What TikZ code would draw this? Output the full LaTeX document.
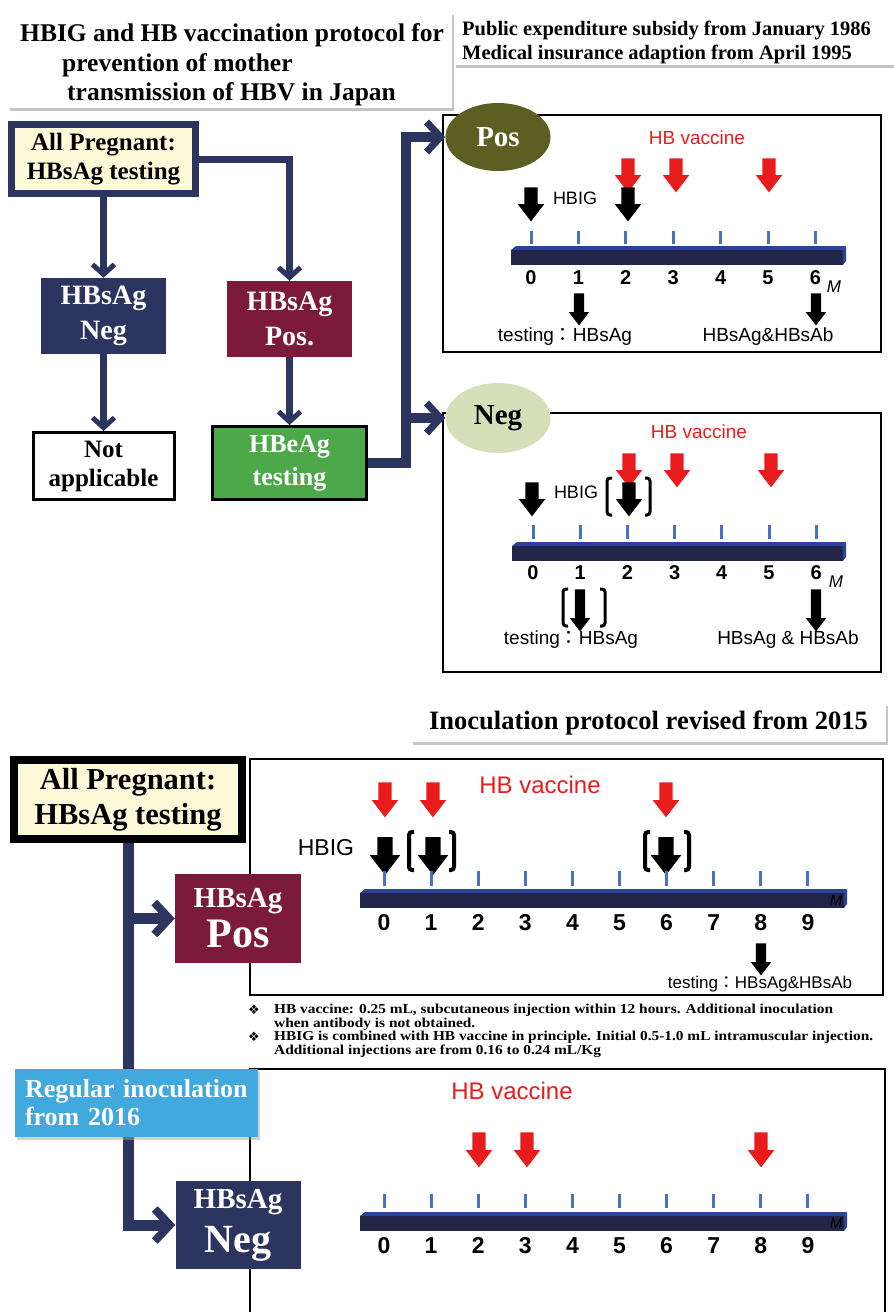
\documentclass[tikz,border=0pt]{standalone}
\usepackage{fontspec}
\setmainfont{Liberation Serif}
\newfontfamily\sansf{Liberation Sans}
\newfontfamily\symf{DejaVu Sans}
\newfontfamily\cjkf{Noto Sans CJK JP}
\newfontfamily\notef[FakeStretch=1.13]{Liberation Serif}
\usetikzlibrary{positioning,shapes.geometric,shapes.arrows,arrows.meta,shadows}

\definecolor{navy}{RGB}{43,53,96}
\definecolor{wine}{RGB}{123,26,58}
\definecolor{leaf}{RGB}{76,168,73}
\definecolor{moss}{RGB}{92,94,34}
\definecolor{sage}{RGB}{214,222,186}
\definecolor{sky}{RGB}{65,169,221}
\definecolor{cream}{RGB}{253,250,218}
\definecolor{vaxred}{RGB}{232,28,28}
\definecolor{tickblue}{RGB}{68,114,196}
\definecolor{bardark}{RGB}{34,37,72}
\definecolor{bartop}{RGB}{44,66,150}

% 3D month bar: left x, right x, top y
\newcommand{\timebar}[3]{%
  \fill[bartop] (#1,#3+4) -- (#1+5,#3) -- (#2,#3) -- (#2-3,#3+4) -- cycle;
  \fill[bardark] (#1,#3+4) rectangle (#2-3,#3+19);
  \fill[bartop] (#2-3,#3+4) -- (#2,#3) -- (#2,#3+15) -- (#2-3,#3+19) -- cycle;}

\begin{document}
\begin{tikzpicture}[x=1pt,y=-1pt,on grid,
    every node/.style={inner sep=0pt},
    hdr/.style={rectangle,fill=white,drop shadow={shadow xshift=2pt,shadow yshift=-3pt,fill=black!45}},
    testbox/.style={rectangle,align=center,font=\bfseries\fontsize{25}{29}\selectfont},
    resbox/.style={rectangle,align=center,text=white,font=\bfseries\fontsize{28}{35}\selectfont},
    flow/.style={draw=navy,line width=7pt,-{Straight Barb[length=10pt,width=22pt,line width=5pt]}},
    bigflow/.style={draw=navy,line width=10pt,-{Straight Barb[length=14pt,width=30pt,line width=7pt]}},
    panel/.style={draw,line width=1.5pt},
    vax/.style={single arrow,shape border rotate=270,fill=vaxred,inner sep=6.5pt,
      single arrow head extend=6.5pt,single arrow tip angle=75,minimum height=34pt},
    hbig/.style={vax,fill=black},
    probe/.style={single arrow,shape border rotate=270,fill=black,inner sep=5pt,
      single arrow head extend=5pt,single arrow tip angle=75,minimum height=32pt},
    brk/.style={line width=3pt,rounded corners=3pt},
    tickmark/.style={draw=tickblue,line width=3pt},
    num/.style={anchor=base,font=\sansf\bfseries\fontsize{20}{24}\selectfont},
    bignum/.style={anchor=base,font=\sansf\bfseries\fontsize{23}{26}\selectfont},
    mlabel/.style={font=\sansf\itshape\fontsize{17}{20}\selectfont},
    lbl/.style={font=\sansf\fontsize{19}{22}\selectfont},
    redlbl/.style={font=\sansf\fontsize{19}{22}\selectfont,text=vaxred},
    note/.style={anchor=west,align=left,font=\notef\bfseries\fontsize{13.6}{14}\selectfont}]

  \useasboundingbox (0,0) rectangle (894,1312);

  % headers
  \node[hdr,minimum width=444pt,minimum height=96pt] (title) at (230,60) {};
  \node[anchor=west,align=left,font=\bfseries\fontsize{25.5}{29.5}\selectfont] (titletxt) at (20,65)
    {HBIG and HB vaccination protocol for\\\hspace*{42pt}prevention of mother\\\hspace*{47pt}transmission of HBV in Japan};
  \node[hdr,minimum width=440pt,minimum height=54pt] (subsidy) at (674,38) {};
  \node[anchor=west,align=left,font=\bfseries\fontsize{20.5}{24}\selectfont] (subsidytxt) at (462,42)
    {Public expenditure subsidy from January 1986\\Medical insurance adaption from April 1995};

  % old protocol flow
  \node[testbox,draw=navy,line width=7pt,fill=cream,minimum width=184pt,minimum height=69pt] (preg1) at (103.5,159) {All Pregnant:\\HBsAg testing};
  \node[resbox,fill=navy,minimum width=125pt,minimum height=76pt] (neg1) [below=157pt of preg1] {HBsAg\\Neg};
  \node[resbox,fill=wine,minimum width=125pt,minimum height=76pt] (pos1) [below right=160pt and 186pt of preg1] {HBsAg\\Pos.};
  \node[testbox,draw,line width=3pt,fill=white,minimum width=141pt,minimum height=67pt] (na1) [below=150pt of neg1] {Not\\applicable};
  \node[testbox,draw,line width=3pt,fill=leaf,text=white,minimum width=154pt,minimum height=73pt,
    font=\bfseries\fontsize{26}{33}\selectfont] (eag) [below=144pt of pos1] {HBeAg\\testing};
  \draw[flow] (preg1.south) -- (neg1.north);
  \draw[flow] (preg1.east) -| (pos1.north);
  \draw[flow] (neg1.south) -- (na1.north);
  \draw[flow] (pos1.south) -- (eag.north);

  % Pos panel
  \draw[panel] (443,115) rectangle (881,352);
  \node[ellipse,fill=moss,minimum width=105pt,minimum height=68pt,text=white,
    font=\bfseries\fontsize{29}{32}\selectfont] (posell) at (498,137) {Pos};
  \node[redlbl] (pvac) at (697,138) {HB vaccine};
  \node[vax] (pv1) at (628,171) {};
  \node[vax] (pv2) at (676,171) {};
  \node[vax] (pv3) at (769,171) {};
  \node[hbig] (ph1) at (531,200) {};
  \node[hbig] (ph2) at (628,200) {};
  \node[font=\sansf\fontsize{18}{20}\selectfont] (phbig) at (575,198) {HBIG};
  \foreach \i in {0,...,6} {
    \draw[tickmark] (531+47.4*\i,231) -- ++(0,13);
    \node[num] (pn\i) at (531+47.4*\i,284) {\i};
  }
  \timebar{511}{846}{246}
  \node[mlabel] (pm) at (834,287) {M};
  \node[probe] (pt1) at (579,306) {};
  \node[probe] (pt2) at (816,306) {};
  \node[lbl] (ptest) at (565,337) {testing{\cjkf ：}HBsAg};
  \node[lbl] (pab) at (768,337) {HBsAg\&HBsAb};

  % Neg panel
  \draw[panel] (443,413) rectangle (881,672);
  \node[ellipse,fill=sage,minimum width=105pt,minimum height=70pt,
    font=\bfseries\fontsize{29}{32}\selectfont] (negell) at (498,418) {Neg};
  \node[redlbl] (nvac) at (699,432) {HB vaccine};
  \node[vax] (nv1) at (629,466) {};
  \node[vax] (nv2) at (677,466) {};
  \node[vax] (nv3) at (771,466) {};
  \node[hbig] (nh1) at (532,495) {};
  \node[hbig] (nh2) at (629,495) {};
  \draw[brk] (612,478) -- (607,478) -- (607,515) -- (612,515);
  \draw[brk] (645,478) -- (650,478) -- (650,515) -- (645,515);
  \node[font=\sansf\fontsize{18}{20}\selectfont] (nhbig) at (576,492) {HBIG};
  \foreach \i in {0,...,6} {
    \draw[tickmark] (533+47.2*\i,525) -- ++(0,14);
    \node[num] (nn\i) at (533+47.2*\i,579) {\i};
  }
  \timebar{512}{846}{542}
  \node[mlabel] (nm) at (836,582) {M};
  \node[probe,minimum height=42pt] (nt1) at (580,607) {};
  \node[probe,minimum height=42pt] (nt2) at (816,607) {};
  \draw[brk] (568,589) -- (563,589) -- (563,626) -- (568,626);
  \draw[brk] (600,589) -- (605,589) -- (605,626) -- (600,626);
  \node[lbl] (ntest) at (571,640) {testing{\cjkf ：}HBsAg};
  \node[lbl] (nab) at (788,640) {HBsAg \& HBsAb};

  % HBeAg result to both panels
  \draw[bigflow] (eag.east) -- ++(38,0) coordinate (fork) |- (posell.west);
  \draw[bigflow] (fork) |- (negell.west);

  % revised protocol
  \node[hdr,minimum width=475pt,minimum height=39pt,font=\bfseries\fontsize{26.5}{28}\selectfont] (inoc) at (648.5,722.5) {Inoculation protocol revised from 2015};
  \draw[panel] (250,759) rectangle (883,995);
  \draw[panel] (250,1312) -- (250,1069) -- (885,1069) -- (885,1312);
  \node[testbox,draw=black,line width=8pt,fill=cream,minimum width=228pt,minimum height=79pt,
    font=\bfseries\fontsize{30.5}{35}\selectfont] (preg2) at (128,799.5) {All Pregnant:\\HBsAg testing};
  \node[resbox,fill=wine,minimum width=126pt,minimum height=89pt] (pos2) [below right=119pt and 110pt of preg2]
    {\fontsize{29}{35}\selectfont HBsAg\\[5pt]\fontsize{42}{35}\selectfont Pos};
  \node[resbox,fill=navy,minimum width=125pt,minimum height=88pt] (neg2) [below=306.5pt of pos2]
    {\fontsize{29}{35}\selectfont HBsAg\\[9pt]\fontsize{40}{35}\selectfont Neg};
  \draw[bigflow,line width=11pt,-{Straight Barb[length=15pt,width=32pt,line width=8pt]}] (preg2.south) |- (neg2.west);
  \draw[bigflow,line width=11pt,-{Straight Barb[length=15pt,width=32pt,line width=8pt]}] (preg2.south |- pos2.west) -- (pos2.west);
  \node[rectangle,fill=sky,minimum width=243pt,minimum height=68pt,text width=223pt,align=left,text=white,
    drop shadow={shadow xshift=2pt,shadow yshift=-3pt,fill=black!35},
    font=\bfseries\fontsize{26}{28}\selectfont] (reg) at (136.5,1103) {Regular inoculation\\from 2016};

  % revised Pos timeline
  \node[redlbl,font=\sansf\fontsize{24}{26}\selectfont] (rvac) at (540,785) {HB vaccine};
  \node[vax,minimum height=35pt] (rv1) at (385,795.5) {};
  \node[vax,minimum height=35pt] (rv2) at (433,795.5) {};
  \node[vax,minimum height=35pt] (rv3) at (666,795.5) {};
  \node[font=\sansf\fontsize{23}{26}\selectfont] (rhbig) at (326,848) {HBIG};
  \node[hbig,inner sep=7.5pt,single arrow head extend=7.5pt,minimum height=38pt] (rh1) at (385,851) {};
  \node[hbig,inner sep=7.5pt,single arrow head extend=7.5pt,minimum height=38pt] (rh2) at (433,851) {};
  \node[hbig,inner sep=7.5pt,single arrow head extend=7.5pt,minimum height=38pt] (rh3) at (666,851) {};
  \draw[brk,line width=4pt] (414,832) -- (409,832) -- (409,870) -- (414,870);
  \draw[brk,line width=4pt] (449,832) -- (454,832) -- (454,870) -- (449,870);
  \draw[brk,line width=4pt] (650,832) -- (645,832) -- (645,870) -- (650,870);
  \draw[brk,line width=4pt] (684,832) -- (689,832) -- (689,870) -- (684,870);
  \foreach \i in {0,...,9} {
    \draw[tickmark] (384+47.1*\i,871) -- ++(0,15);
    \node[bignum] (rn\i) at (384+47.1*\i,930) {\i};
  }
  \timebar{360}{847}{889}
  \node[mlabel,font=\sansf\itshape\fontsize{15}{17}\selectfont] (rm) at (836,900) {M};
  \node[probe] (rt1) at (761,956) {};
  \node[lbl,font=\sansf\fontsize{17}{20}\selectfont] (rtest) at (760,984) {testing{\cjkf ：}HBsAg\&HBsAb};

  % notes
  \node[font=\symf\fontsize{13}{14}\selectfont] (b1) at (254,1010) {❖};
  \node[note] (n1) at (274,1017) {HB vaccine: 0.25 mL, subcutaneous injection within 12 hours. Additional inoculation\\when antibody is not obtained.};
  \node[font=\symf\fontsize{13}{14}\selectfont] (b2) at (254,1037) {❖};
  \node[note] (n2) at (274,1044) {HBIG is combined with HB vaccine in principle. Initial 0.5-1.0 mL intramuscular injection.\\Additional injections are from 0.16 to 0.24 mL/Kg};

  % regular Neg timeline
  \node[redlbl,font=\sansf\fontsize{24}{26}\selectfont] (gvac) at (512,1091) {HB vaccine};
  \node[vax,minimum height=35pt] (gv1) at (479,1145.5) {};
  \node[vax,minimum height=35pt] (gv2) at (527,1145.5) {};
  \node[vax,minimum height=35pt] (gv3) at (761,1145.5) {};
  \foreach \i in {0,...,9} {
    \draw[tickmark] (384+47.1*\i,1194) -- ++(0,14);
    \node[bignum] (gn\i) at (384+47.1*\i,1253) {\i};
  }
  \timebar{360}{847}{1212}
  \node[mlabel,font=\sansf\itshape\fontsize{15}{17}\selectfont] (gm) at (836,1223) {M};
\end{tikzpicture}
\end{document}
